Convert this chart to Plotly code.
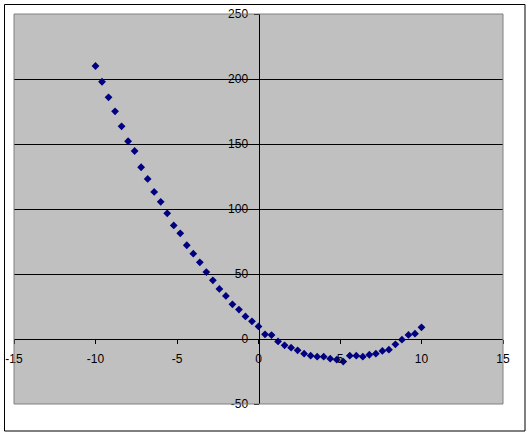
import plotly.graph_objects as go

x_values = [-10, -9.6, -9.2, -8.8, -8.4, -8.0, -7.6, -7.2, -6.8, -6.4, -6.0, -5.6, -5.2,
            -4.8, -4.4, -4.0, -3.6, -3.2, -2.8, -2.4, -2.0, -1.6, -1.2, -0.8, -0.4,
            0, 0.4, 0.8, 1.2, 1.6, 2.0, 2.4, 2.8, 3.2, 3.6, 4.0, 4.4, 4.8, 5.2,
            5.6, 6.0, 6.4, 6.8, 7.2, 7.6, 8.0, 8.4, 8.8, 9.2, 9.6, 10]
y_values = [210, 197.9, 185.9, 175.1, 163.6, 152.1, 144.6, 132.1, 123.1, 113.1, 105.5, 96.7, 87.4,
            81.3, 72.1, 65.6, 59.0, 51.5, 45.1, 38.5, 33.1, 26.7, 22.6, 17.4, 13.6,
            9.7, 3.6, 3.0, -1.9, -4.9, -6.7, -8.7, -11.3, -12.8, -13.6, -13.6, -15.1, -15.9, -17.4,
            -12.8, -12.8, -13.6, -12.1, -11.3, -9.2, -8.2, -4.1, -0.5, 3.1, 4.1, 9.0]

x_ticks = [-15, -10, -5, 0, 5, 10, 15]
y_ticks = [-50, 0, 50, 100, 150, 200, 250]

fig = go.Figure()
fig.add_trace(go.Scatter(
    x=x_values, y=y_values, mode="markers",
    marker=dict(symbol="diamond", size=6, color="#000080"),
    showlegend=False,
))

font = dict(family="Liberation Sans, Arial", size=12, color="black")

fig.update_layout(
    width=529, height=435,
    margin=dict(l=14, r=26, t=14, b=31, autoexpand=False),
    paper_bgcolor="white",
    plot_bgcolor="#C0C0C0",
    font=font,
    xaxis=dict(
        range=[-15, 15], tickvals=x_ticks, ticktext=[str(v) for v in x_ticks],
        showgrid=False, zeroline=False, showline=True, linecolor="black", linewidth=1,
        ticks="outside", ticklen=4, tickcolor="black", automargin=False,
        anchor="free", position=50 / 300, tickfont=font, ticklabelstandoff=5,
    ),
    yaxis=dict(
        range=[-50, 250], tickvals=y_ticks, ticktext=[str(v) for v in y_ticks],
        showgrid=True, gridcolor="black", gridwidth=1, zeroline=False,
        showline=True, linecolor="black", linewidth=1,
        ticks="outside", ticklen=5, tickcolor="black", automargin=False,
        anchor="free", position=0.5, tickfont=font, ticklabelstandoff=3,
    ),
    shapes=[
        dict(type="rect", xref="paper", yref="paper", x0=0, x1=1, y0=0, y1=1,
             line=dict(color="#808080", width=1), layer="above"),
        dict(type="rect", xref="paper", yref="paper",
             x0=(4.5 - 14) / 489, x1=(525 - 14) / 489,
             y0=(404 - 431) / 390, y1=(404 - 4.5) / 390,
             line=dict(color="black", width=1), layer="above"),
    ],
)

fig.write_html("out.html", config={"displayModeBar": False},
               post_script="document.body.style.margin='0';document.body.style.overflow='hidden';")
